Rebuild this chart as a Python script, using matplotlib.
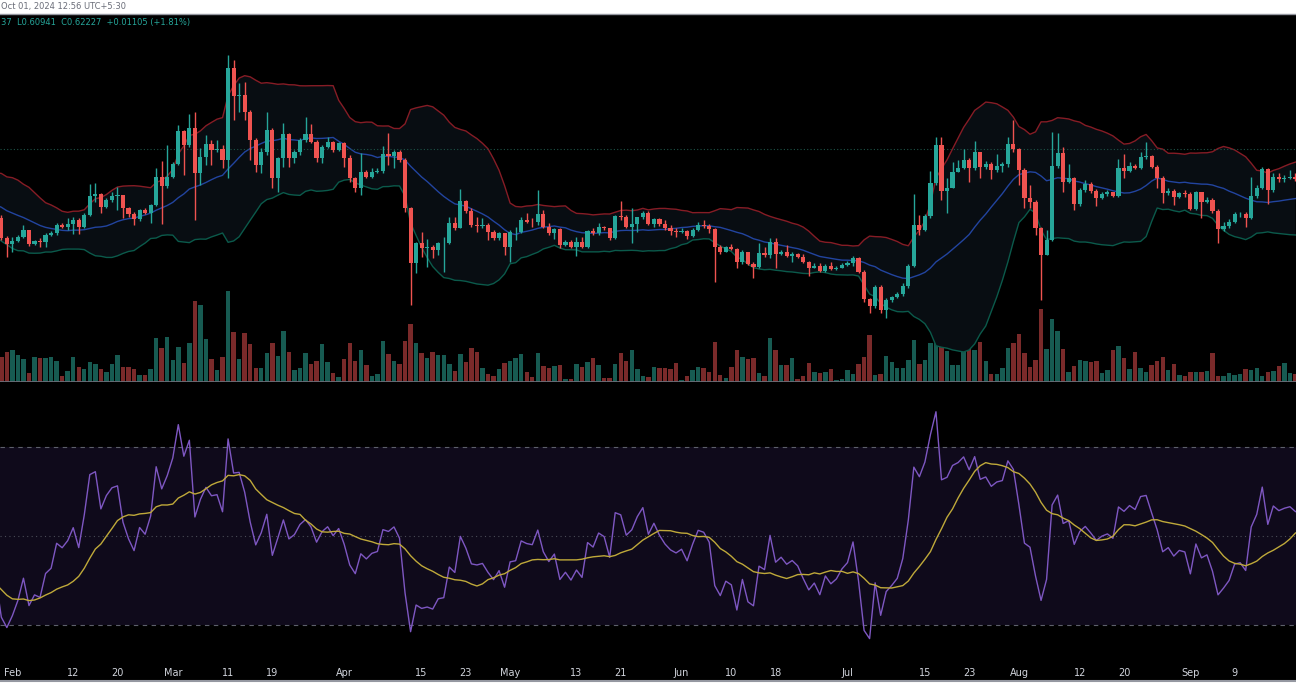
import numpy as np
import pandas as pd
import matplotlib
matplotlib.use('Agg')
import matplotlib.pyplot as plt
import matplotlib.transforms as mtransforms
from matplotlib.patches import Rectangle
from matplotlib.lines import Line2D

# daily candles, Jan 30 .. Sep 20 2024
dates = pd.date_range('2024-01-30', periods=235, freq='D')

# closes before the visible window (needed to warm up the BB and RSI)
warmup_close = [0.600, 0.605, 0.610, 0.600, 0.605, 0.600, 0.605, 0.610, 0.605, 0.600,
                0.610, 0.600, 0.600, 0.555, 0.555, 0.555, 0.560, 0.550, 0.565, 0.555,
                0.565, 0.585, 0.555, 0.560, 0.565, 0.560, 0.565, 0.560, 0.550, 0.530,
                0.535, 0.535, 0.520, 0.500, 0.505, 0.510, 0.515, 0.520, 0.525, 0.5185]

close = [0.4895, 0.4795, 0.4845, 0.491, 0.501, 0.4795, 0.4845, 0.4825, 0.4935, 0.496,
         0.5085, 0.506, 0.5095, 0.516, 0.506, 0.5235, 0.5525, 0.555, 0.536, 0.546,
         0.552, 0.5535, 0.5345, 0.5245, 0.517, 0.531, 0.527, 0.5385, 0.58, 0.567,
         0.58, 0.5995, 0.6495, 0.6285, 0.6545, 0.586, 0.611, 0.6295, 0.621, 0.6225,
         0.606, 0.7435, 0.702, 0.7035, 0.6785, 0.636, 0.5985, 0.6185, 0.651, 0.5785,
         0.6095, 0.6445, 0.6095, 0.6175, 0.636, 0.645, 0.6335, 0.6095, 0.626, 0.6335,
         0.621, 0.631, 0.6095, 0.5785, 0.5645, 0.5885, 0.581, 0.5875, 0.5895, 0.6145,
         0.6125, 0.6175, 0.606, 0.5335, 0.451, 0.481, 0.4735, 0.475, 0.471, 0.481,
         0.482, 0.512, 0.5045, 0.5445, 0.5295, 0.5085, 0.507, 0.5085, 0.4975, 0.4885,
         0.496, 0.476, 0.4975, 0.4985, 0.516, 0.5135, 0.5125, 0.5245, 0.506, 0.497,
         0.5025, 0.4785, 0.4835, 0.476, 0.4825, 0.476, 0.4995, 0.496, 0.506, 0.5035,
         0.4885, 0.522, 0.5205, 0.506, 0.51, 0.52, 0.527, 0.5095, 0.5175, 0.5095,
         0.5035, 0.4995, 0.4975, 0.4995, 0.4925, 0.501, 0.5085, 0.5075, 0.5025, 0.476,
         0.4685, 0.475, 0.4725, 0.4535, 0.4675, 0.4495, 0.446, 0.466, 0.4635, 0.4835,
         0.4645, 0.4675, 0.4625, 0.4645, 0.461, 0.4525, 0.4445, 0.4475, 0.4395, 0.4475,
         0.4425, 0.4445, 0.4485, 0.451, 0.4595, 0.4385, 0.397, 0.3875, 0.416, 0.381,
         0.396, 0.400, 0.4045, 0.4175, 0.4475, 0.5085, 0.501, 0.522, 0.571, 0.6285,
         0.5595, 0.5645, 0.5885, 0.5945, 0.606, 0.5935, 0.6185, 0.596, 0.600, 0.591,
         0.5975, 0.5995, 0.6295, 0.6225, 0.591, 0.5485, 0.5435, 0.5045, 0.4635, 0.486,
         0.597, 0.617, 0.5735, 0.5785, 0.5395, 0.561, 0.5695, 0.5595, 0.5485, 0.5545,
         0.5575, 0.552, 0.5945, 0.5895, 0.5975, 0.5935, 0.6105, 0.612, 0.596, 0.5795,
         0.556, 0.56, 0.551, 0.556, 0.5545, 0.5325, 0.5575, 0.5435, 0.546, 0.5295,
         0.502, 0.507, 0.5125, 0.5245, 0.5255, 0.5185, 0.552, 0.5635, 0.592, 0.561,
         0.581, 0.577, 0.5795, 0.581, 0.5775]

high = [0.5235, 0.492, 0.491, 0.4935, 0.5085, 0.501, 0.486, 0.4895, 0.496, 0.4995,
        0.511, 0.511, 0.5195, 0.521, 0.5185, 0.526, 0.5695, 0.571, 0.556, 0.5485,
        0.5585, 0.566, 0.5535, 0.536, 0.5285, 0.5325, 0.5335, 0.54, 0.5935, 0.6045,
        0.6285, 0.6035, 0.6585, 0.651, 0.6745, 0.6785, 0.6235, 0.6435, 0.636, 0.636,
        0.6285, 0.7635, 0.756, 0.721, 0.7235, 0.681, 0.6385, 0.6235, 0.6775, 0.6535,
        0.611, 0.661, 0.646, 0.621, 0.6385, 0.671, 0.6595, 0.636, 0.6285, 0.641,
        0.6345, 0.6325, 0.6335, 0.6135, 0.581, 0.616, 0.591, 0.5945, 0.5935, 0.6275,
        0.646, 0.621, 0.621, 0.6085, 0.536, 0.4835, 0.4985, 0.487, 0.4785, 0.4835,
        0.491, 0.521, 0.521, 0.562, 0.546, 0.5335, 0.521, 0.5195, 0.511, 0.501,
        0.4985, 0.496, 0.501, 0.506, 0.521, 0.526, 0.5185, 0.561, 0.531, 0.511,
        0.5045, 0.5035, 0.486, 0.486, 0.491, 0.491, 0.501, 0.5035, 0.511, 0.5075,
        0.5045, 0.5235, 0.545, 0.5235, 0.5345, 0.521, 0.5295, 0.5295, 0.5195, 0.5195,
        0.516, 0.5085, 0.5035, 0.5035, 0.501, 0.5045, 0.5125, 0.516, 0.5095, 0.5045,
        0.4785, 0.4775, 0.4795, 0.4745, 0.471, 0.4685, 0.4535, 0.481, 0.476, 0.4895,
        0.4885, 0.471, 0.4785, 0.4685, 0.466, 0.4645, 0.4545, 0.451, 0.451, 0.4495,
        0.4525, 0.4475, 0.451, 0.4545, 0.462, 0.461, 0.441, 0.3995, 0.4185, 0.4185,
        0.3995, 0.4025, 0.4075, 0.421, 0.4495, 0.5545, 0.5235, 0.5245, 0.5895, 0.641,
        0.641, 0.5785, 0.6035, 0.606, 0.6225, 0.6095, 0.6345, 0.6185, 0.6045, 0.6035,
        0.6145, 0.6035, 0.641, 0.666, 0.6245, 0.5935, 0.5685, 0.546, 0.506, 0.501,
        0.6485, 0.646, 0.626, 0.5995, 0.581, 0.5635, 0.576, 0.5725, 0.5625, 0.5575,
        0.561, 0.5585, 0.6075, 0.6145, 0.6025, 0.5995, 0.6185, 0.6335, 0.6135, 0.5985,
        0.5825, 0.5635, 0.5625, 0.5585, 0.561, 0.5585, 0.5595, 0.5585, 0.551, 0.5485,
        0.5325, 0.5135, 0.5175, 0.5285, 0.5285, 0.5275, 0.581, 0.5685, 0.596, 0.5935,
        0.586, 0.586, 0.5835, 0.591, 0.586]

low = [0.486, 0.461, 0.4685, 0.4825, 0.4885, 0.4775, 0.4785, 0.476, 0.476, 0.4925,
       0.4935, 0.5035, 0.501, 0.495, 0.495, 0.5045, 0.5225, 0.5435, 0.526, 0.5345,
       0.5435, 0.531, 0.5185, 0.521, 0.5085, 0.515, 0.5255, 0.511, 0.5375, 0.5095,
       0.5635, 0.5785, 0.5985, 0.5835, 0.626, 0.516, 0.5685, 0.5985, 0.5985, 0.6185,
       0.5935, 0.5785, 0.666, 0.6785, 0.666, 0.606, 0.5885, 0.586, 0.6135, 0.5635,
       0.5585, 0.596, 0.596, 0.601, 0.6135, 0.6325, 0.631, 0.6035, 0.601, 0.6235,
       0.6185, 0.6195, 0.596, 0.5735, 0.5585, 0.5535, 0.5785, 0.5795, 0.586, 0.586,
       0.5985, 0.5935, 0.6035, 0.5285, 0.3885, 0.436, 0.461, 0.446, 0.4585, 0.4635,
       0.4385, 0.4795, 0.501, 0.5035, 0.526, 0.506, 0.4985, 0.5035, 0.486, 0.486,
       0.486, 0.4635, 0.4535, 0.486, 0.496, 0.511, 0.506, 0.5085, 0.5045, 0.4935,
       0.4875, 0.4735, 0.4775, 0.4735, 0.462, 0.4745, 0.4745, 0.4935, 0.4935, 0.501,
       0.486, 0.4875, 0.516, 0.5035, 0.481, 0.4985, 0.5175, 0.5085, 0.506, 0.5075,
       0.501, 0.4935, 0.491, 0.496, 0.4875, 0.491, 0.4995, 0.5045, 0.496, 0.4235,
       0.4645, 0.4675, 0.471, 0.4435, 0.4495, 0.4485, 0.4295, 0.4445, 0.461, 0.4585,
       0.4435, 0.4635, 0.461, 0.4535, 0.4585, 0.451, 0.4325, 0.4435, 0.4385, 0.4375,
       0.441, 0.441, 0.4435, 0.4475, 0.4475, 0.436, 0.3935, 0.376, 0.3835, 0.376,
       0.3685, 0.3935, 0.3985, 0.4025, 0.4135, 0.446, 0.4935, 0.4995, 0.5195, 0.5685,
       0.546, 0.526, 0.5635, 0.5875, 0.5925, 0.5735, 0.591, 0.5785, 0.5925, 0.5775,
       0.5875, 0.5885, 0.596, 0.6185, 0.5685, 0.5335, 0.5335, 0.4935, 0.396, 0.4685,
       0.4845, 0.5935, 0.5585, 0.571, 0.531, 0.5375, 0.5575, 0.556, 0.5375, 0.5475,
       0.5525, 0.551, 0.551, 0.5795, 0.5875, 0.5925, 0.5925, 0.6075, 0.5935, 0.5645,
       0.541, 0.5535, 0.5385, 0.5495, 0.551, 0.531, 0.531, 0.5185, 0.541, 0.526,
       0.481, 0.4995, 0.5045, 0.511, 0.521, 0.506, 0.5175, 0.5485, 0.5625, 0.5395,
       0.5585, 0.5735, 0.5735, 0.5775, 0.5745]

# volume, millions
volume = [250, 303, 317, 270, 227, 93, 250, 237, 237, 250,
          210, 60, 110, 250, 153, 127, 203, 177, 127, 103,
          183, 270, 153, 153, 127, 67, 67, 127, 443, 343,
          450, 217, 353, 187, 393, 810, 777, 427, 233, 117,
          250, 910, 503, 227, 493, 377, 143, 143, 293, 393,
          257, 510, 303, 117, 143, 293, 177, 210, 377, 203,
          90, 50, 233, 387, 210, 317, 170, 60, 83, 410,
          277, 210, 177, 410, 577, 393, 287, 243, 300, 267,
          267, 183, 110, 283, 203, 343, 300, 143, 83, 60,
          127, 193, 210, 243, 277, 100, 50, 287, 160, 137,
          160, 167, 33, 33, 183, 150, 200, 243, 167, 37,
          37, 177, 293, 210, 317, 127, 57, 50, 153, 137,
          137, 127, 193, 17, 60, 120, 153, 143, 103, 400,
          70, 37, 153, 317, 250, 227, 237, 87, 60, 437,
          317, 170, 170, 237, 33, 60, 193, 103, 90, 103,
          127, 23, 33, 120, 77, 177, 250, 467, 67, 83,
          257, 200, 143, 143, 223, 417, 183, 217, 387, 517,
          350, 310, 170, 170, 367, 327, 317, 397, 210, 83,
          77, 137, 337, 393, 483, 287, 150, 217, 727, 327,
          630, 510, 327, 103, 163, 217, 207, 203, 207, 93,
          117, 317, 360, 237, 127, 300, 143, 103, 167, 210,
          250, 120, 183, 70, 60, 100, 100, 100, 110, 293,
          57, 57, 87, 67, 77, 133, 120, 137, 60, 103,
          110, 163, 187, 93, 80]

tick_days = ['2024-02-01', '2024-02-12', '2024-02-20', '2024-03-01', '2024-03-11',
             '2024-03-19', '2024-04-01', '2024-04-15', '2024-04-23', '2024-05-01',
             '2024-05-13', '2024-05-21', '2024-06-01', '2024-06-10', '2024-06-18',
             '2024-07-01', '2024-07-15', '2024-07-23', '2024-08-01', '2024-08-12',
             '2024-08-20', '2024-09-01', '2024-09-09']
tick_labels = ['Feb', '12', '20', 'Mar', '11', '19', 'Apr', '15', '23', 'May', '13', '21',
               'Jun', '10', '18', 'Jul', '15', '23', 'Aug', '12', '20', 'Sep', '9']

current_price = 0.6225
header_date = 'Oct 01, 2024 12:56 UTC+5:30'
legend_text = '37  L0.60941  C0.62227  +0.01105 (+1.81%)'

# ---- indicators ----
close = np.array(close)
n_w = len(warmup_close)
all_close = pd.Series(np.concatenate([warmup_close, close]))
opens = np.concatenate([[warmup_close[-1]], close[:-1]])
high = np.maximum(np.array(high), np.maximum(opens, close))
low = np.minimum(np.array(low), np.minimum(opens, close))

basis = all_close.rolling(20).mean()
dev = all_close.rolling(20).std(ddof=0)
upper = basis + 2 * dev
lower = basis - 2 * dev

delta = all_close.diff()
gain = delta.clip(lower=0)
loss = -delta.clip(upper=0)
avg_gain = gain.ewm(alpha=1 / 14, adjust=False).mean()
avg_loss = loss.ewm(alpha=1 / 14, adjust=False).mean()
rsi = 100 - 100 / (1 + avg_gain / avg_loss)
rsi_ma = rsi.rolling(14).mean()

x_all = np.arange(-n_w, len(close))
x = np.arange(len(close))
up = close >= opens

# ---- figure ----
H = 700.0
fig = plt.figure(figsize=(12.96, 7.0), dpi=100, facecolor='black')

main_rect = [0, 1 - 382 / H, 1, (382 - 15) / H]
ax_v = fig.add_axes(main_rect)
ax = fig.add_axes(main_rect, sharex=ax_v)
ax_r = fig.add_axes([0, 19 / H, 1, (681 - 384) / H], sharex=ax_v)
ax.patch.set_visible(False)
for a in (ax_v, ax, ax_r):
    a.set_facecolor('black')
    for s in a.spines.values():
        s.set_visible(False)
    a.set_xticks([])
    a.set_yticks([])

ax_v.set_xlim(-0.24, 234.1)

# volume
vol_colors = np.where(up, '#175b52', '#7a2a2a')
ax_v.bar(x, volume, width=0.8, color=vol_colors, linewidth=0)
ax_v.set_ylim(0, 3680)
ax_v.axhline(0, color='#6b6e78', lw=1.3)

# bollinger bands
ax.fill_between(x_all, lower, upper, color='#080d12', lw=0, zorder=1)
ax.plot(x_all, upper, color='#861c25', lw=1.0, zorder=2)
ax.plot(x_all, lower, color='#0b5a4b', lw=1.0, zorder=2)
ax.plot(x_all, basis, color='#22449f', lw=1.0, zorder=2)
ax.axhline(current_price, color='#1d5448', lw=0.8, ls=(0, (1, 2)), zorder=2)

# candles
cand_colors = np.where(up, '#26a69a', '#ef5350')
ax.vlines(x, low, high, colors=cand_colors, lw=1.0, zorder=3)
body = np.maximum(np.abs(close - opens), 0.0012)
ax.bar(x, body, bottom=np.minimum(opens, close), width=0.75, color=cand_colors,
       linewidth=0, zorder=4)
ax.set_ylim(0.273, 0.8235)

# rsi
ax_r.axhspan(30, 70, color='#0f0a1b', lw=0, zorder=0)
ax_r.axhline(70, color='#5d606b', lw=0.8, ls=(0, (4, 4)))
ax_r.axhline(30, color='#5d606b', lw=0.8, ls=(0, (4, 4)))
ax_r.axhline(50, color='#4a4d57', lw=0.8, ls=(0, (1, 3)))
ax_r.plot(x_all, rsi, color='#7e57c2', lw=1.0, zorder=3)
ax_r.plot(x_all, rsi_ma, color='#bfa93a', lw=1.0, zorder=3)
ax_r.set_ylim(17.42, 84.16)

trans = mtransforms.blended_transform_factory(ax_r.transData, ax_r.transAxes)
for d, lab in zip(tick_days, tick_labels):
    idx = dates.get_loc(pd.Timestamp(d))
    ax_r.text(idx, 0.027, lab, transform=trans, ha='center', va='center',
              color='#d1d4dc', fontsize=7)

# header strips
fig.add_artist(Rectangle((0, 1 - 14 / H), 1, 14 / H, transform=fig.transFigure,
                         facecolor='white', edgecolor='none'))
fig.add_artist(Line2D([0, 1], [1 - 14 / H, 1 - 14 / H], transform=fig.transFigure,
                      color='#9598a1', lw=1))
fig.add_artist(Rectangle((0, 0), 1, 19 / H, transform=fig.transFigure,
                         facecolor='white', edgecolor='none'))
fig.add_artist(Line2D([0, 1], [19 / H, 19 / H], transform=fig.transFigure,
                      color='#9598a1', lw=1.5))
fig.text(0.001, 1 - 7 / H, header_date, color='#6a6d78', fontsize=6,
         ha='left', va='center')
fig.text(0.001, 1 - 23 / H, legend_text, color='#26a69a', fontsize=6,
         ha='left', va='center')

fig.savefig('out.png', dpi=100, facecolor='black')
